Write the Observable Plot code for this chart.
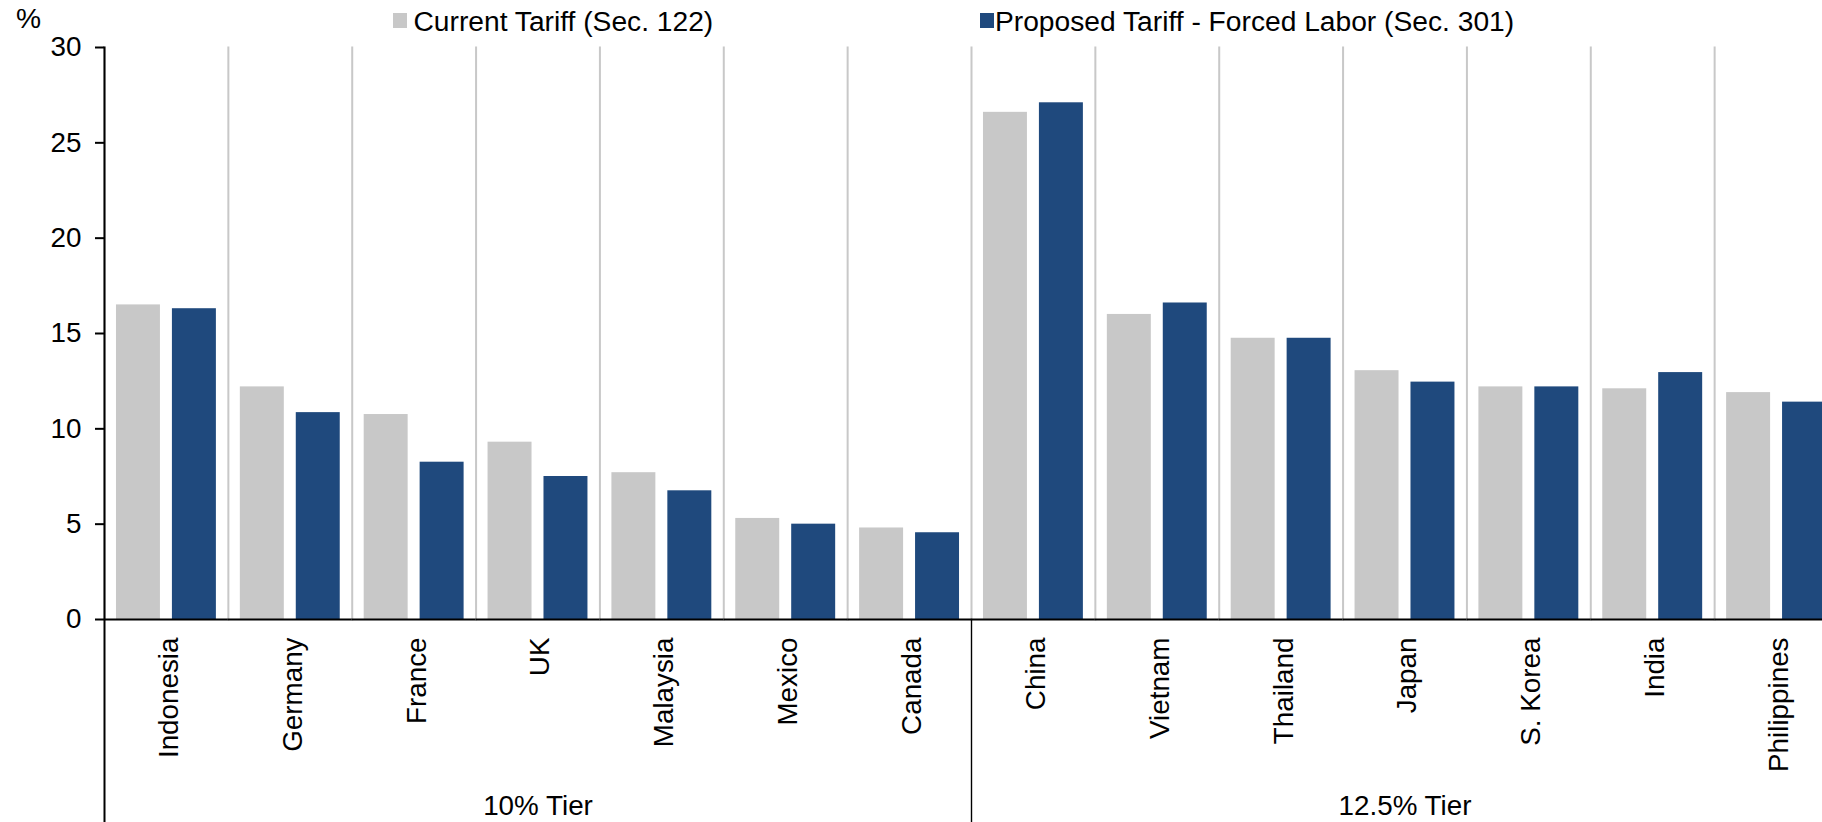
<!DOCTYPE html>
<html>
<head>
<meta charset="utf-8">
<script src="https://cdn.jsdelivr.net/npm/d3@7"></script>
<script src="https://cdn.jsdelivr.net/npm/@observablehq/plot@0.6"></script>
<style>
  html, body { margin: 0; padding: 0; background: #fff; }
  body { font-family: "Liberation Sans", Arial, sans-serif; color: #000; }
  #wrap { position: relative; width: 1822px; height: 822px; overflow: hidden; }
  #wrap svg { position: absolute; left: 0; top: 0; overflow: hidden; }
  .ov { position: absolute; font-size: 28.2px; line-height: 28.2px; white-space: nowrap; }
  .sw { position: absolute; width: 14px; height: 15px; }
</style>
</head>
<body>
<div id="wrap"></div>
<script>
// ---- data ----
const countries = ["Indonesia", "Germany", "France", "UK", "Malaysia", "Mexico", "Canada",
                   "China", "Vietnam", "Thailand", "Japan", "S. Korea", "India", "Philippines"];
const tierOf = [0, 0, 0, 0, 0, 0, 0, 1, 1, 1, 1, 1, 1, 1];
const tierNames = ["10% Tier", "12.5% Tier"];
const currentTariff  = [16.5, 12.2, 10.75, 9.3, 7.7, 5.3, 4.8, 26.6, 16.0, 14.75, 13.05, 12.2, 12.1, 11.9];
const proposedTariff = [16.3, 10.85, 8.25, 7.5, 6.75, 5.0, 4.55, 27.1, 16.6, 14.75, 12.45, 12.2, 12.95, 11.4];
const seriesNames = ["Current Tariff (Sec. 122)", "Proposed Tariff - Forced Labor (Sec. 301)"];
const seriesColors = ["#c8c8c8", "#1f497d"];
const yTicks = [0, 5, 10, 15, 20, 25, 30];
const yUnit = "%";

// ---- derived tables ----
const rows = countries.flatMap((c, i) => [
  {country: c, series: seriesNames[0], value: currentTariff[i]},
  {country: c, series: seriesNames[1], value: proposedTariff[i]}
]);
const tierLabels = tierNames.map((name, t) => {
  const members = countries.filter((c, j) => tierOf[j] === t);
  return {name, anchor: members[Math.floor(members.length / 2)]};
});
const tierStarts = countries.filter((c, j) => j > 0 && tierOf[j] !== tierOf[j - 1]);

const W = 1822, H = 822;
const mL = 104, mR = -16, mT = 47, mB = 203;
const fontFamily = "'Liberation Sans', Arial, sans-serif";

const marks = [
  Plot.frame({anchor: "left", stroke: "#c8c8c8", strokeWidth: 2}),
  Plot.barY(rows, {fx: "country", x: "series", y: "value", fill: "series"}),
  Plot.ruleY([0], {stroke: "#000", strokeWidth: 2.2}),
  Plot.frame({anchor: "left", fx: countries[0], stroke: "#000", strokeWidth: 2, insetBottom: -mB}),
  ...tierStarts.map(c => Plot.frame({anchor: "left", fx: c, stroke: "#000", strokeWidth: 1.4,
                                     insetTop: H - mB - mT, insetBottom: -mB})),
  Plot.axisY({ticks: yTicks, tickSize: 9, tickPadding: 14, label: null, strokeWidth: 2,
              tickFormat: d => String(d), fill: "#000"}),
  Plot.text(countries, {fx: d => d, text: d => d, frameAnchor: "bottom", rotate: -90,
                        textAnchor: "end", lineAnchor: "middle", dy: 18, dx: 2.5, fill: "#000"}),
  Plot.text(tierLabels, {fx: "anchor", text: "name", frameAnchor: "bottom",
                         lineAnchor: "middle", dy: 187, fill: "#000"})
];

const chart = Plot.plot({
  width: W, height: H,
  marginLeft: mL, marginRight: mR, marginTop: mT, marginBottom: mB,
  style: {fontFamily, fontSize: "27.8px", color: "#000", background: "#fff", overflow: "hidden"},
  fx: {domain: countries, padding: 0, round: false, axis: null},
  x: {domain: seriesNames, padding: 0.214, round: false, axis: null},
  y: {domain: [0, 30], axis: null},
  color: {domain: seriesNames, range: seriesColors},
  marks
});

const wrap = document.getElementById("wrap");
wrap.appendChild(chart);

// unit label and legend (HTML overlay above the plot)
const unit = document.createElement("div");
unit.className = "ov";
unit.style.left = "16px"; unit.style.top = "4px";
unit.textContent = yUnit;
wrap.appendChild(unit);

const legendSwatchLefts = [393, 980];
const legendTextLefts = [413.5, 995];
seriesNames.forEach((name, i) => {
  const sw = document.createElement("div");
  sw.className = "sw";
  sw.style.left = legendSwatchLefts[i] + "px"; sw.style.top = "13px";
  sw.style.background = seriesColors[i];
  wrap.appendChild(sw);
  const t = document.createElement("div");
  t.className = "ov";
  t.style.left = legendTextLefts[i] + "px"; t.style.top = "7px";
  t.textContent = name;
  wrap.appendChild(t);
});
</script>
</body>
</html>
